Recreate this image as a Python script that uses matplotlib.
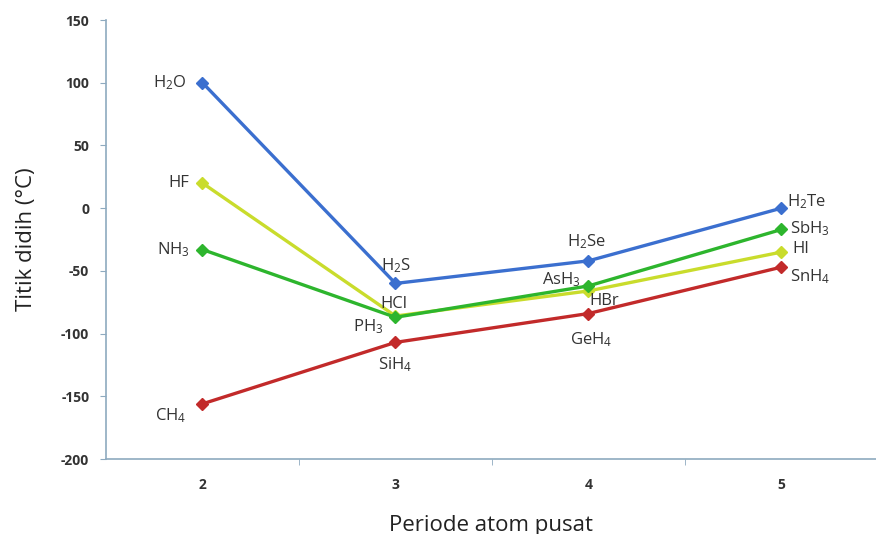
"""
Titik didih senyawa hidrida per periode.
"""

import matplotlib.pyplot as plt

periode = [2, 3, 4, 5]

grup16 = [100, -60, -42, 0]
grup17 = [20, -86, -66, -35]
grup15 = [-33, -87, -62, -17]
grup14 = [-156, -107, -84, -47]

label16 = ['H$_2$O', 'H$_2$S', 'H$_2$Se', 'H$_2$Te']
label17 = ['HF', 'HCl', 'HBr', 'HI']
label15 = ['NH$_3$', 'PH$_3$', 'AsH$_3$', 'SbH$_3$']
label14 = ['CH$_4$', 'SiH$_4$', 'GeH$_4$', 'SnH$_4$']

y_ticks = [150, 100, 50, 0, -50, -100, -150, -200]


def main():
    plt.rcParams['font.family'] = ['Open Sans', 'DejaVu Sans']
    plt.rcParams['mathtext.fontset'] = 'custom'
    plt.rcParams['mathtext.rm'] = 'Open Sans'
    plt.rcParams['mathtext.it'] = 'Open Sans'
    plt.rcParams['axes.unicode_minus'] = False

    fig = plt.figure(figsize=(8.76, 5.34), dpi=100)
    ax = fig.add_axes([0.121, 0.1404, 0.879, 0.8221])

    series = [
        (grup16, label16, '#3b6fcf'),
        (grup17, label17, '#c9dc2c'),
        (grup15, label15, '#2db52d'),
        (grup14, label14, '#c22a2a'),
    ]
    for vals, names, color in series:
        ax.plot(periode, vals, color=color, lw=2.4, marker='D',
                markersize=6, zorder=3)

    # label offsets in pixels (dx, dy, ha)
    offsets = {
        'H$_2$O': (-16, 0, 'right'), 'HF': (-13, 0, 'right'),
        'NH$_3$': (-13, 0, 'right'), 'CH$_4$': (-16, -12, 'right'),
        'H$_2$S': (0, 18, 'center'), 'HCl': (-2, 12, 'center'),
        'PH$_3$': (-27, -9, 'center'), 'SiH$_4$': (0, -22, 'center'),
        'H$_2$Se': (-2, 19, 'center'), 'AsH$_3$': (-27, 6, 'center'),
        'HBr': (16, -10, 'center'), 'GeH$_4$': (3, -26, 'center'),
        'H$_2$Te': (6, 7, 'left'), 'SbH$_3$': (9, 1, 'left'),
        'HI': (11, 3, 'left'), 'SnH$_4$': (9, -10, 'left'),
    }
    for vals, names, color in series:
        for x, y, name in zip(periode, vals, names):
            dx, dy, ha = offsets[name]
            ax.annotate(name, (x, y), xytext=(dx, dy),
                        textcoords='offset pixels', ha=ha, va='center',
                        fontsize=12, color='#333333', zorder=4)

    ax.set_xlim(1.5, 5.49)
    ax.set_ylim(-200, 150)
    ax.set_xticks(periode)
    ax.set_xticklabels([str(p) for p in periode])
    ax.set_xticks([2.5, 3.5, 4.5], minor=True)
    ax.tick_params(axis='x', which='major', length=0, pad=14)
    ax.tick_params(axis='x', which='minor', length=4, color='#8eaabf')
    ax.set_yticks(y_ticks)
    ax.tick_params(axis='y', length=4, color='#8eaabf', pad=8)
    for lab in ax.get_xticklabels() + ax.get_yticklabels():
        lab.set_fontsize(10)
        lab.set_fontweight('bold')
        lab.set_color('#333333')

    for side in ['top', 'right']:
        ax.spines[side].set_visible(False)
    for side in ['left', 'bottom']:
        ax.spines[side].set_color('#8eaabf')
        ax.spines[side].set_linewidth(1.2)

    ax.set_ylabel('Titik didih (°C)', fontsize=16, color='#222222',
                  labelpad=17)
    ax.set_xlabel('Periode atom pusat', fontsize=16, color='#222222',
                  labelpad=16)

    fig.savefig('out.png', dpi=100)


if __name__ == '__main__':
    main()
